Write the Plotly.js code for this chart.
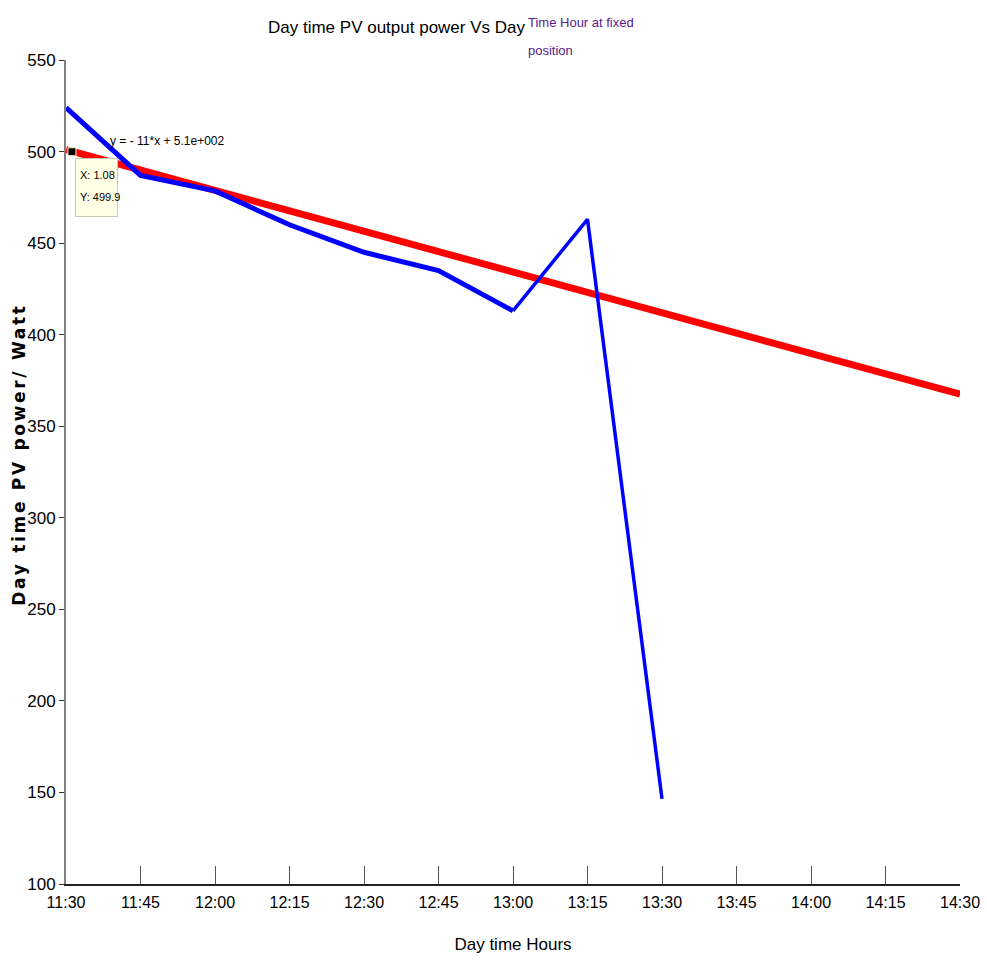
<!DOCTYPE html>
<html>
<head>
<meta charset="utf-8">
<script src="https://cdn.plot.ly/plotly-3.0.1.min.js"></script>
<style>html,body{margin:0;padding:0;background:#fff;}#chart{width:987px;height:963px;}</style>
</head>
<body>
<div id="chart"></div>
<script>
// Tick labels (MATLAB x = 1 .. 13)
const timeLabels = ['11:30','11:45','12:00','12:15','12:30','12:45','13:00','13:15','13:30','13:45','14:00','14:15','14:30'];
const tickPositions = [1,2,3,4,5,6,7,8,9,10,11,12,13];
const yTicks = [100,150,200,250,300,350,400,450,500,550];

// Measured PV power (thick part up to 13:00, thin part after)
const pvX = [1,2,3,4,5,6,7];
const pvY = [524,487,478.5,460,445,435,413];
const pvX2 = [7,8,9];
const pvY2 = [413,463,146.5];

// Linear fit y = -11*x + 5.1e+002
const fitX = [1,13];
const fitY = [501,367.5];

// Data tip
const tipX = [1.08];
const tipY = [499.9];

const narrow = '"Liberation Sans Narrow", "Arial Narrow", "Liberation Sans", Arial, sans-serif';

const traces = [
  {x: fitX, y: fitY, mode: 'lines', line: {color: '#ff0000', width: 7}, hoverinfo: 'skip'},
  {x: pvX, y: pvY, mode: 'lines', line: {color: '#0000ff', width: 5}, hoverinfo: 'skip'},
  {x: pvX2, y: pvY2, mode: 'lines', line: {color: '#0000ff', width: 3.5}, hoverinfo: 'skip'},
  {x: tipX, y: tipY, mode: 'markers', marker: {symbol: 'square', color: '#000', size: 8, line: {color: '#ffffcc', width: 1}}, hoverinfo: 'skip'}
];

const layout = {
  width: 987, height: 963,
  margin: {l: 66, r: 27, t: 60, b: 79},
  paper_bgcolor: '#fff', plot_bgcolor: '#fff',
  showlegend: false,
  xaxis: {
    range: [1, 13], tickvals: tickPositions, ticktext: timeLabels,
    ticks: 'inside', ticklen: 18, tickcolor: '#555', tickwidth: 1,
    showline: true, linecolor: '#222', linewidth: 2, showgrid: false, zeroline: false,
    ticklabelstandoff: 3,
    tickfont: {family: narrow, size: 16, color: '#000'},
    title: {text: 'Day time Hours', font: {family: narrow, size: 17, color: '#000'}, standoff: 28}
  },
  yaxis: {
    range: [100, 550], tickvals: yTicks,
    ticks: 'outside', ticklen: 5, tickcolor: '#333', tickwidth: 1,
    showline: true, linecolor: '#808080', linewidth: 2, showgrid: false, zeroline: false,
    tickfont: {family: narrow, size: 17, color: '#000'}
  },
  annotations: [
    {xref: 'paper', yref: 'paper', x: -0.0526, y: 0.521, xanchor: 'center', yanchor: 'middle', textangle: -90,
     text: 'Day time PV power/ Watt', showarrow: false,
     font: {family: '"DejaVu Sans", "Liberation Sans", sans-serif', size: 17, color: '#000', weight: 'bold'}},
    {xref: 'paper', yref: 'paper', x: 0.370, y: 1.040, xanchor: 'center', yanchor: 'middle',
     text: 'Day time PV output power Vs Day', showarrow: false,
     font: {family: narrow, size: 17, color: '#000'}},
    {xref: 'paper', yref: 'paper', x: 0.515, y: 1.046, xanchor: 'left', yanchor: 'middle', align: 'left',
     text: 'Time Hour at fixed', showarrow: false,
     font: {family: narrow, size: 13, color: '#551a8b'}},
    {xref: 'paper', yref: 'paper', x: 0.515, y: 1.012, xanchor: 'left', yanchor: 'middle', align: 'left',
     text: 'position', showarrow: false,
     font: {family: narrow, size: 13, color: '#551a8b'}},
    {xref: 'x', yref: 'y', x: 1.57, y: 506, xanchor: 'left', yanchor: 'middle',
     text: 'y = - 11*x + 5.1e+002', showarrow: false,
     font: {family: narrow, size: 12, color: '#000'}},
    {xref: 'x', yref: 'y', x: 1.41, y: 480.4, xanchor: 'center', yanchor: 'middle',
     text: ' ', showarrow: false, width: 41, height: 57,
     bgcolor: '#ffffe6', bordercolor: '#c8c8b4', borderwidth: 1, borderpad: 0,
     font: {size: 10}},
    {xref: 'x', yref: 'y', x: 1.165, y: 487.2, xanchor: 'left', yanchor: 'middle',
     text: 'X: 1.08', showarrow: false,
     font: {family: narrow, size: 11, color: '#000'}},
    {xref: 'x', yref: 'y', x: 1.165, y: 475.2, xanchor: 'left', yanchor: 'middle',
     text: 'Y: 499.9', showarrow: false,
     font: {family: narrow, size: 11, color: '#000'}}
  ]
};

Plotly.newPlot('chart', traces, layout, {displayModeBar: false, staticPlot: true}).then(function (gd) {
  // the vertical axis label in the reference is stretched along its length
  const t = gd.querySelectorAll('.annotation-text')[0];
  if (t) { t.style.letterSpacing = '2.7px'; }
});
</script>
</body>
</html>
